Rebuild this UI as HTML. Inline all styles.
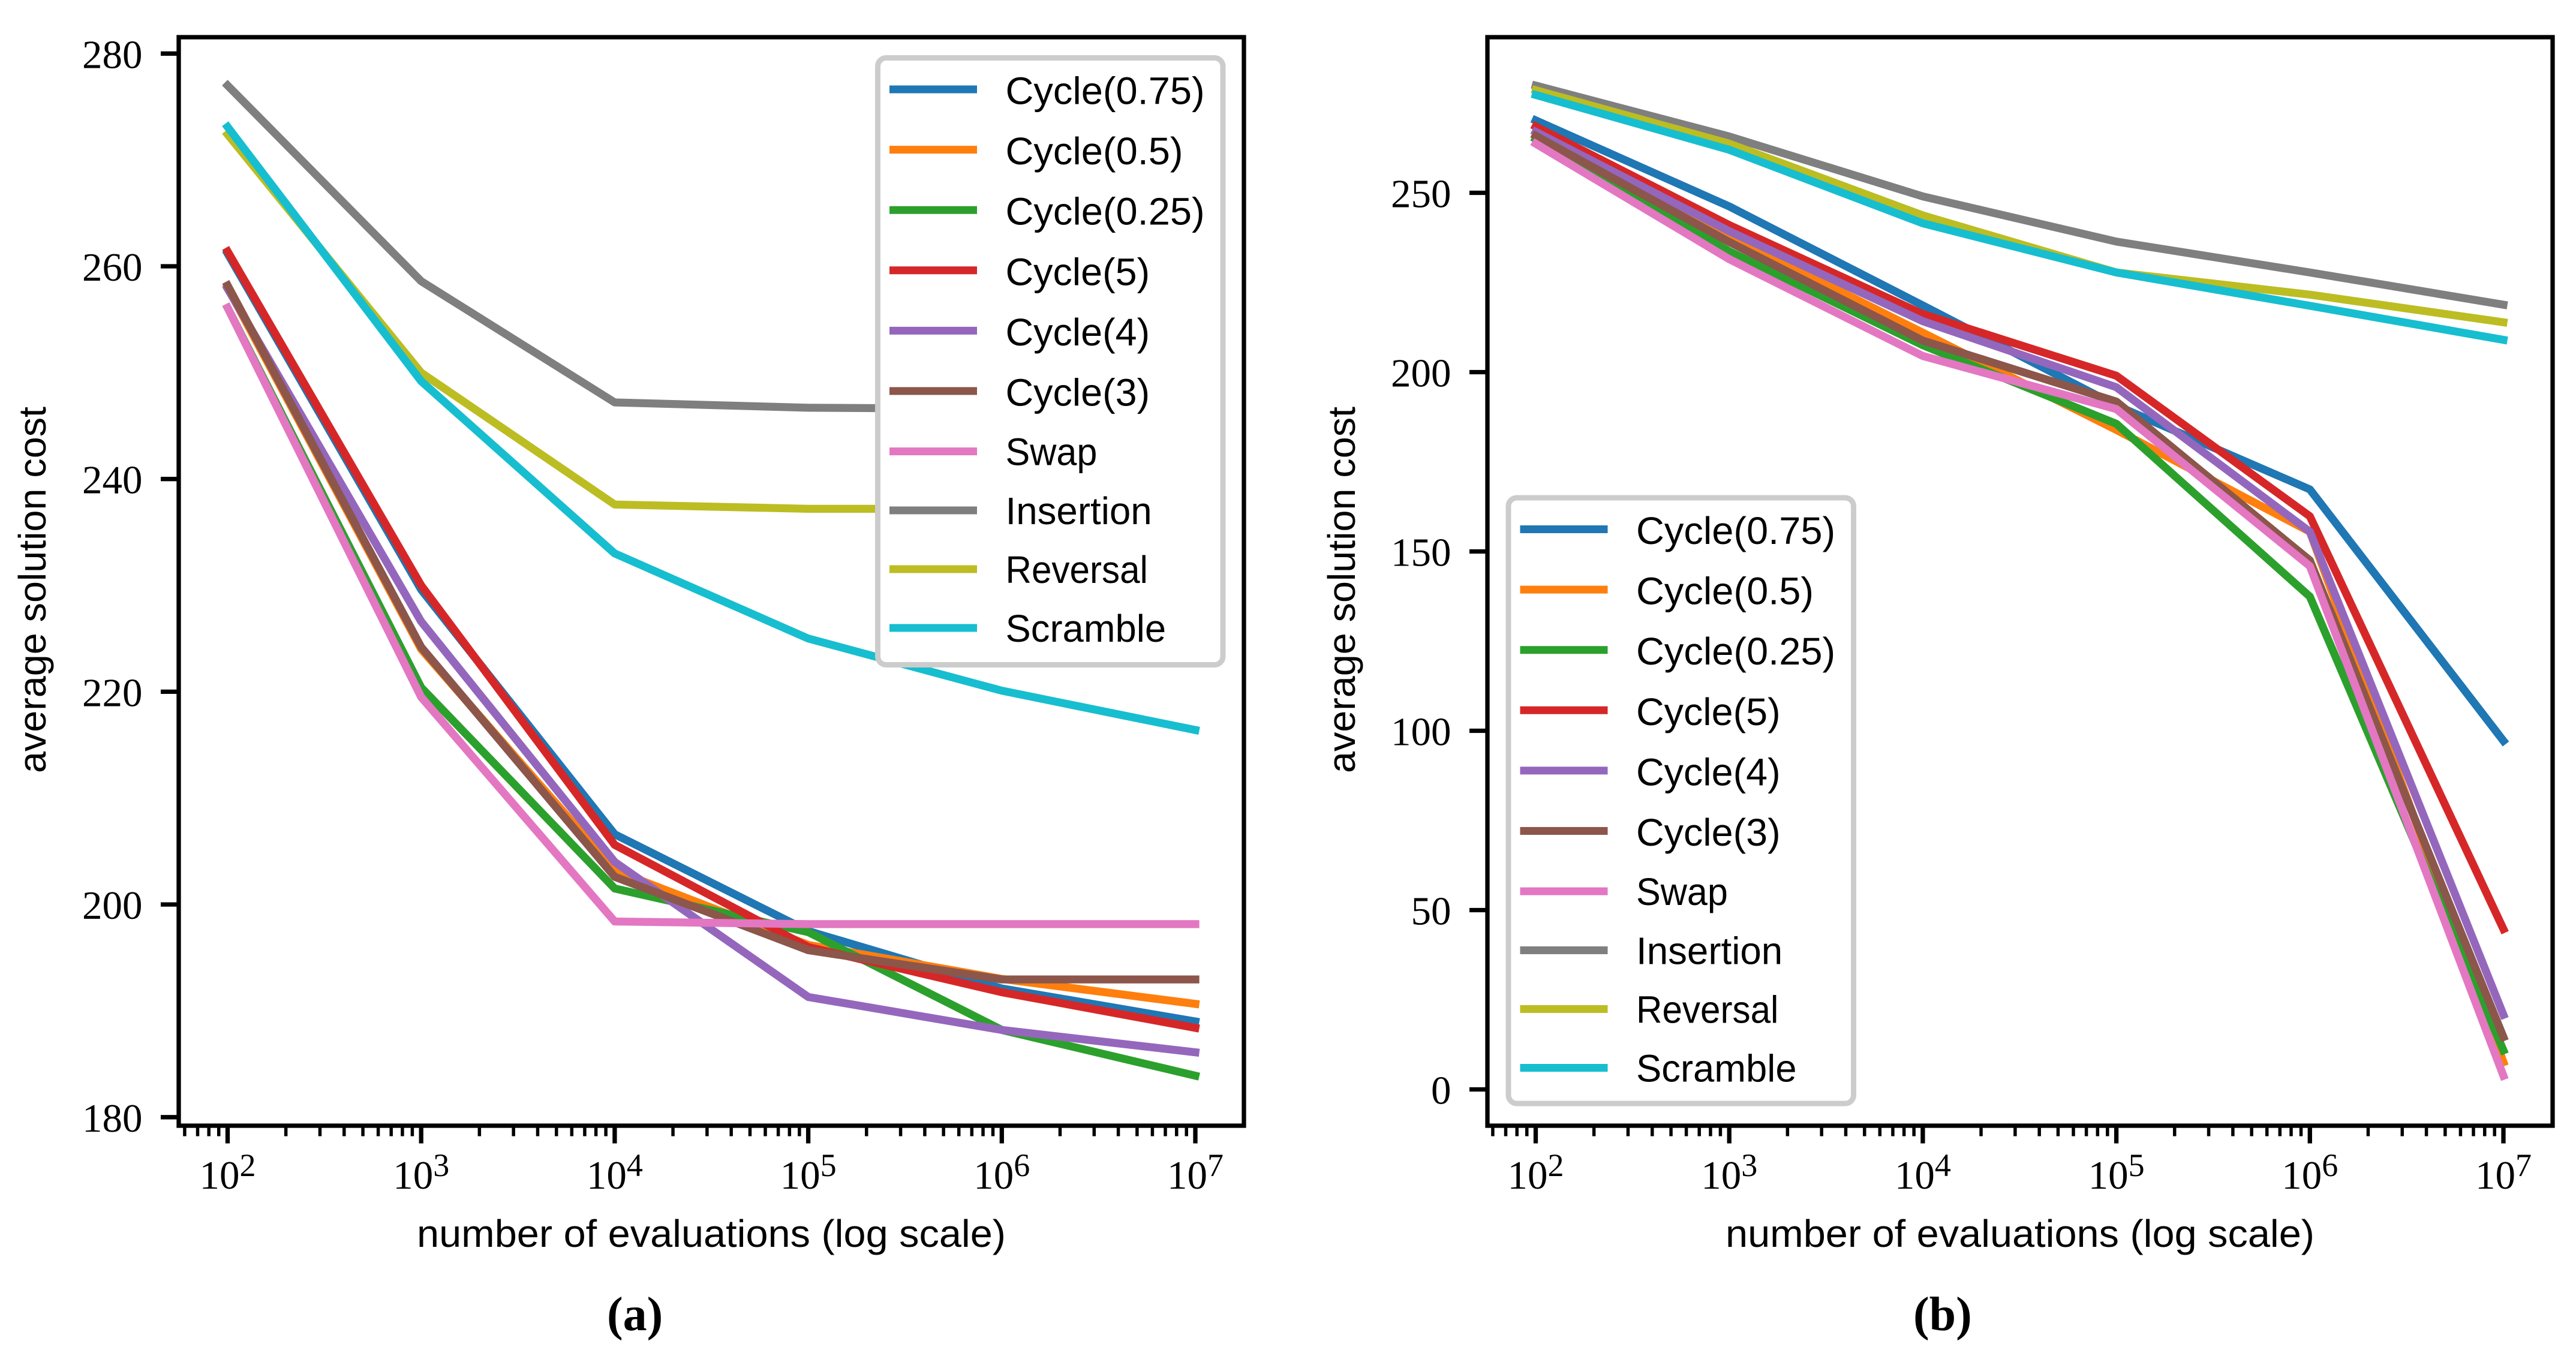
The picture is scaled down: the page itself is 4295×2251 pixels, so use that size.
<!DOCTYPE html>
<html lang="en">
<head>
<meta charset="utf-8">
<title>Average solution cost vs number of evaluations</title>
<style>
html,body{margin:0;padding:0;background:#fff;}
svg{display:block;}
.sans{font-family:"Liberation Sans",sans-serif;font-size:64px;fill:#000;}
.serif{font-family:"Liberation Serif",serif;font-size:67px;fill:#000;}
.caption{font-family:"Liberation Serif",serif;font-size:80px;font-weight:bold;fill:#000;}
</style>
</head>
<body>
<svg id="figure" xmlns="http://www.w3.org/2000/svg" width="4295" height="2251" viewBox="0 0 4295 2251">
  <rect width="4295" height="2251" fill="#fff"/>
  <g id="panel-a"></g>
  <g id="panel-b"></g>
  <text class="sans" x="1186" y="2079" text-anchor="middle" textLength="982" lengthAdjust="spacingAndGlyphs">number of evaluations (log scale)</text>
  <text class="sans" x="3368" y="2079" text-anchor="middle" textLength="982" lengthAdjust="spacingAndGlyphs">number of evaluations (log scale)</text>
  <text class="sans" transform="translate(76,1289) rotate(-90)" x="0" y="0" textLength="611" lengthAdjust="spacingAndGlyphs">average solution cost</text>
  <text class="sans" transform="translate(2259,1289) rotate(-90)" x="0" y="0" textLength="611" lengthAdjust="spacingAndGlyphs">average solution cost</text>
  <text class="caption" x="1012" y="2218">(a)</text>
  <text class="caption" x="3190" y="2218">(b)</text>
</svg>
<script>
// ---- chart data ----
const seriesNames = ['Cycle(0.75)','Cycle(0.5)','Cycle(0.25)','Cycle(5)','Cycle(4)','Cycle(3)','Swap','Insertion','Reversal','Scramble'];
const xExponents = [2,3,4,5,6,7];
const aYTickLabels = [180,200,220,240,260,280];
const bYTickLabels = [0,50,100,150,200,250];

const aCycle075   = [261.2,229.6,206.6,197.5,192.1,189.0];
const aCycle05    = [258.0,224.0,203.2,196.2,193.0,190.65];
const aCycle025   = [256.1,220.4,201.5,197.4,188.2,183.9];
const aCycle5     = [261.4,230.0,205.6,196.0,191.75,188.4];
const aCycle4     = [257.9,226.6,204.0,191.3,188.2,186.1];
const aCycle3     = [258.2,224.2,202.6,195.7,192.95,192.95];
const aSwap       = [256.1,219.5,198.4,198.15,198.15,198.15];
const aInsertion  = [277.0,258.6,247.2,246.7,246.6,246.5];
const aReversal   = [272.4,250.0,237.6,237.2,237.2,237.2];
const aScramble   = [273.1,249.2,233.0,225.0,220.1,216.4];

const bCycle075   = [270.2,246.2,218.6,190.7,167.3,97.2];
const bCycle05    = [266.0,238.0,211.0,183.9,155.5,7.6];
const bCycle025   = [265.0,233.7,207.5,185.6,137.4,10.9];
const bCycle5     = [268.5,241.0,216.2,199.0,159.8,44.7];
const bCycle4     = [267.0,239.3,214.2,195.8,155.5,20.8];
const bCycle3     = [265.9,236.3,208.8,191.8,147.5,14.6];
const bSwap       = [263.7,231.5,204.5,189.7,145.9,3.8];
const bInsertion  = [279.9,265.7,249.0,236.4,227.8,218.8];
const bReversal   = [278.6,263.7,243.7,227.8,221.6,213.9];
const bScramble   = [277.3,262.0,241.5,227.8,218.5,209.0];

const aSeries = [aCycle075,aCycle05,aCycle025,aCycle5,aCycle4,aCycle3,aSwap,aInsertion,aReversal,aScramble];
const bSeries = [bCycle075,bCycle05,bCycle025,bCycle5,bCycle4,bCycle3,bSwap,bInsertion,bReversal,bScramble];

// ---- styling ----
const seriesColors = ['#1f77b4','#ff7f0e','#2ca02c','#d62728','#9467bd','#8c564b','#e377c2','#7f7f7f','#bcbd22','#17becf'];
const labelFit = {'Cycle(0.75)':1.015,'Cycle(0.5)':1.015,'Cycle(0.25)':1.015,'Cycle(5)':1.01,'Cycle(4)':1.01,'Cycle(3)':1.01,'Swap':0.955,'Insertion':0.995,'Reversal':0.94,'Scramble':0.99};
const SVG_NS = 'http://www.w3.org/2000/svg';

function make(parent, tag, attrs, text) {
  const el = document.createElementNS(SVG_NS, tag);
  for (const k in attrs) el.setAttribute(k, attrs[k]);
  if (text !== undefined) el.textContent = text;
  parent.appendChild(el);
  return el;
}
function slug(name) {
  return name.toLowerCase().replace(/[().]/g, ' ').trim().replace(/\s+/g, '-');
}

function drawPanel(cfg) {
  const root = document.getElementById(cfg.id);
  const xOf = function (exp) { return cfg.x0 + (exp - 2) * cfg.xStep; };
  const yOf = function (v) { return cfg.yRef + (cfg.vRef - v) * cfg.yUnit; };
  const tag = cfg.tag;

  // data lines
  cfg.series.forEach(function (vals, i) {
    const pts = vals.map(function (v, j) { return xOf(xExponents[j]).toFixed(2) + ',' + yOf(v).toFixed(2); }).join(' ');
    const el = make(root, 'polyline', {points: pts, fill: 'none', stroke: seriesColors[i], 'stroke-width': 13.3, 'stroke-linecap': 'square', 'stroke-linejoin': 'round'});
    
    
  });

  // y ticks
  cfg.yTicks.forEach(function (v) {
    const y = yOf(v);
    const t = make(root, 'line', {x1: cfg.left - 30, x2: cfg.left, y1: y, y2: y, stroke: '#000', 'stroke-width': 7.3});
    
    
    const l = make(root, 'text', {class: 'serif', x: cfg.left - 60.5, y: y + 24, 'text-anchor': 'end'}, String(v));
    
    
  });

  // x major ticks and labels
  xExponents.forEach(function (exp) {
    const x = xOf(exp);
    const t = make(root, 'line', {x1: x, x2: x, y1: cfg.bottom, y2: cfg.bottom + 29.5, stroke: '#000', 'stroke-width': 7.3});
    
    
    const l = make(root, 'text', {class: 'serif', x: x - 47, y: 1982});
    
    
    make(l, 'tspan', {x: x - 47, y: 1982}, '10');
    make(l, 'tspan', {x: x + 20, y: 1961, 'font-size': 54}, String(exp));
  });

  // x minor ticks (log subdivisions)
  const leftExp = 2 + (cfg.left - cfg.x0) / cfg.xStep;
  const rightExp = 2 + (cfg.right - cfg.x0) / cfg.xStep;
  for (let d = 1; d <= 7; d++) {
    for (let s = 2; s <= 9; s++) {
      const e = d + Math.log10(s);
      if (e <= leftExp || e >= rightExp) continue;
      const x = xOf(e);
      const t = make(root, 'line', {x1: x, x2: x, y1: cfg.bottom, y2: cfg.bottom + 17.5, stroke: '#000', 'stroke-width': 5.5});
      
      
    }
  }

  // axes frame
  const frame = make(root, 'rect', {x: cfg.left, y: cfg.top, width: cfg.right - cfg.left, height: cfg.bottom - cfg.top, fill: 'none', stroke: '#000', 'stroke-width': 7.3});
  
  

  // legend
  const lg = make(root, 'g', {transform: 'translate(' + cfg.legendDx + ',' + cfg.legendDy + ')'});
  
  
  const box = make(lg, 'rect', {x: 1463.5, y: 96.5, width: 575.5, height: cfg.legendH, rx: 14, ry: 14, fill: '#fff', stroke: '#cccccc', 'stroke-width': 9});
  
  
  seriesNames.forEach(function (name, i) {
    const rowY = i < 7 ? 149 + 100.6 * i : 851 + 98 * (i - 7);
    const h = make(lg, 'line', {x1: 1483, x2: 1629, y1: rowY, y2: rowY, stroke: seriesColors[i], 'stroke-width': 13});
    
    
    const txt = make(lg, 'text', {class: 'sans', x: 1676.5, y: rowY + (i < 6 ? 24.5 : 23)}, name);
    
    
    const fit = labelFit[name];
    txt.setAttribute('textLength', (txt.getComputedTextLength() * fit).toFixed(1));
    txt.setAttribute('lengthAdjust', 'spacingAndGlyphs');
  });
}

drawPanel({id: 'panel-a', tag: 'panel-a', series: aSeries, yTicks: aYTickLabels,
  left: 298, right: 2074, top: 62, bottom: 1877,
  x0: 379.5, xStep: 322.7, vRef: 280, yRef: 89.3, yUnit: 17.735,
  legendDx: 0, legendDy: 0, legendH: 1012});
drawPanel({id: 'panel-b', tag: 'panel-b', series: bSeries, yTicks: bYTickLabels,
  left: 2480, right: 4256, top: 62, bottom: 1877,
  x0: 2560.5, xStep: 322.7, vRef: 0, yRef: 1816.5, yUnit: 5.98,
  legendDx: 1051.5, legendDy: 733.5, legendH: 1010});
</script>
</body>
</html>
